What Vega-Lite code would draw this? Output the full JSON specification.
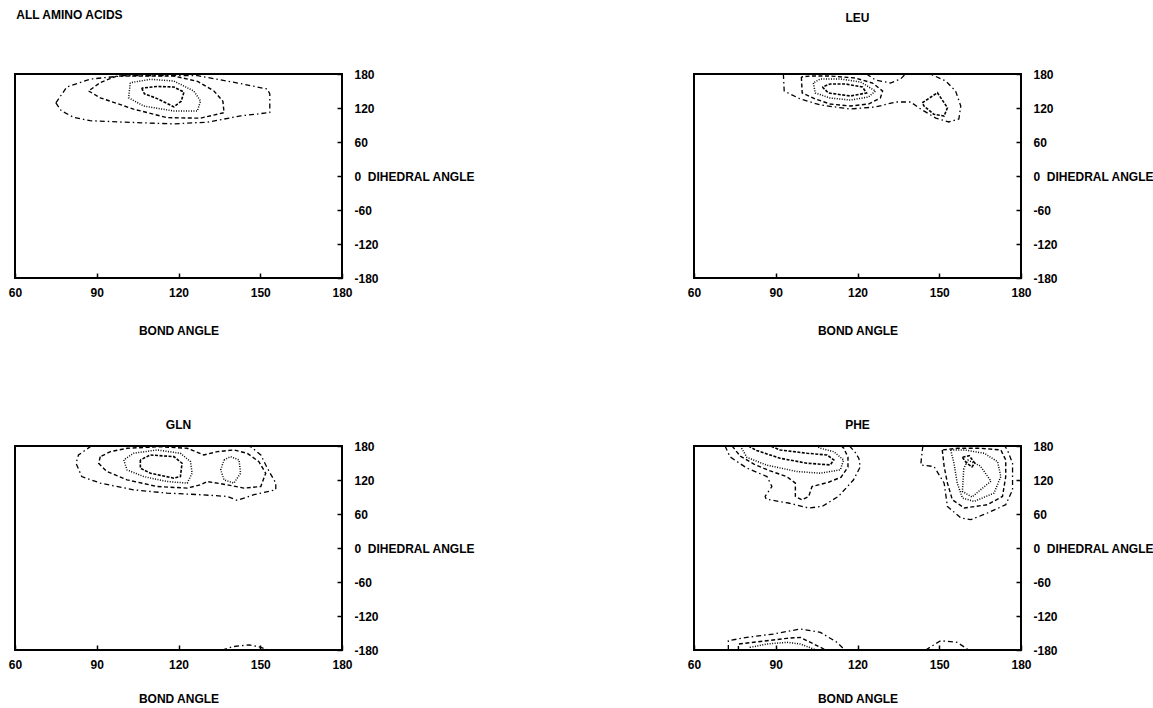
{
  "$schema": "https://vega.github.io/schema/vega-lite/v6.json",
  "background": "white",
  "padding": {"left": 7, "top": 8, "right": 5, "bottom": 0},
  "config": {
    "view": {"stroke": "black", "strokeWidth": 2},
    "font": "Liberation Sans",
    "title": {"font": "Liberation Sans", "fontSize": 12, "fontWeight": "bold", "color": "black"},
    "axis": {"labelFont": "Liberation Sans", "labelFontWeight": "bold", "labelFontSize": 12, "labelColor": "black", "titleFont": "Liberation Sans", "titleFontWeight": "bold", "titleFontSize": 12, "titleColor": "black", "tickColor": "black", "tickWidth": 1.5, "domain": false, "grid": false, "labelFlush": false, "labelOverlap": false},
    "axisX": {"tickSize": -5, "labelPadding": 14, "titlePadding": 21, "labelBaseline": "top"},
    "axisY": {"tickSize": -5, "labelPadding": 17, "labelAlign": "left", "labelBaseline": "middle"},
    "line": {"color": "black", "clip": true}
  },
  "columns": 2,
  "bounds": "flush",
  "spacing": {"row": 168, "column": 352},
  "datasets": {
    "rows": [
      {"p":"A","c":"A1","s":"a","i":0,"x":75,"y":129},{"p":"A","c":"A1","s":"a","i":1,"x":77,"y":115},{"p":"A","c":"A1","s":"a","i":2,"x":81.5,"y":103.5},{"p":"A","c":"A1","s":"a","i":3,"x":87.6,"y":97.6},{"p":"A","c":"A1","s":"a","i":4,"x":100,"y":95},{"p":"A","c":"A1","s":"a","i":5,"x":118,"y":92},{"p":"A","c":"A1","s":"a","i":6,"x":130.6,"y":95},{"p":"A","c":"A1","s":"a","i":7,"x":142.8,"y":106},{"p":"A","c":"A1","s":"a","i":8,"x":153.5,"y":112},{"p":"A","c":"A1","s":"a","i":9,"x":153.5,"y":145},{"p":"A","c":"A1","s":"a","i":10,"x":152.6,"y":153.5},{"p":"A","c":"A1","s":"a","i":11,"x":142.8,"y":163},{"p":"A","c":"A1","s":"a","i":12,"x":134,"y":171},{"p":"A","c":"A1","s":"a","i":13,"x":127,"y":177},{"p":"A","c":"A1","s":"a","i":14,"x":100,"y":177},{"p":"A","c":"A1","s":"a","i":15,"x":87.6,"y":171},{"p":"A","c":"A1","s":"a","i":16,"x":79,"y":157},{"p":"A","c":"A1","s":"a","i":17,"x":75,"y":129},
      {"p":"A","c":"A2","s":"b","i":0,"x":87,"y":150},{"p":"A","c":"A2","s":"b","i":1,"x":91.3,"y":138},{"p":"A","c":"A2","s":"b","i":2,"x":103.5,"y":118},{"p":"A","c":"A2","s":"b","i":3,"x":115.8,"y":103},{"p":"A","c":"A2","s":"b","i":4,"x":128,"y":102},{"p":"A","c":"A2","s":"b","i":5,"x":136.7,"y":111.7},{"p":"A","c":"A2","s":"b","i":6,"x":136.3,"y":132},{"p":"A","c":"A2","s":"b","i":7,"x":133,"y":150},{"p":"A","c":"A2","s":"b","i":8,"x":127,"y":167},{"p":"A","c":"A2","s":"b","i":9,"x":118.3,"y":176.5},{"p":"A","c":"A2","s":"b","i":10,"x":97.4,"y":176.5},{"p":"A","c":"A2","s":"b","i":11,"x":91.3,"y":165},{"p":"A","c":"A2","s":"b","i":12,"x":87,"y":150},
      {"p":"A","c":"A3","s":"c","i":0,"x":102.3,"y":164.6},{"p":"A","c":"A3","s":"c","i":1,"x":101.7,"y":138},{"p":"A","c":"A3","s":"c","i":2,"x":107.2,"y":123.5},{"p":"A","c":"A3","s":"c","i":3,"x":118.3,"y":114.7},{"p":"A","c":"A3","s":"c","i":4,"x":126.9,"y":114.7},{"p":"A","c":"A3","s":"c","i":5,"x":128.1,"y":132.4},{"p":"A","c":"A3","s":"c","i":6,"x":125.6,"y":150},{"p":"A","c":"A3","s":"c","i":7,"x":118.3,"y":167.6},{"p":"A","c":"A3","s":"c","i":8,"x":109.7,"y":170.6},{"p":"A","c":"A3","s":"c","i":9,"x":102.3,"y":164.6},
      {"p":"A","c":"A4","s":"d","i":0,"x":106.5,"y":155},{"p":"A","c":"A4","s":"d","i":1,"x":107.5,"y":145},{"p":"A","c":"A4","s":"d","i":2,"x":112,"y":137},{"p":"A","c":"A4","s":"d","i":3,"x":118.3,"y":122},{"p":"A","c":"A4","s":"d","i":4,"x":121,"y":132},{"p":"A","c":"A4","s":"d","i":5,"x":122,"y":148},{"p":"A","c":"A4","s":"d","i":6,"x":118.3,"y":157},{"p":"A","c":"A4","s":"d","i":7,"x":112,"y":158},{"p":"A","c":"A4","s":"d","i":8,"x":106.5,"y":155},

      {"p":"L","c":"L1","s":"a","i":0,"x":92.8,"y":180},{"p":"L","c":"L1","s":"a","i":1,"x":93.1,"y":150},{"p":"L","c":"L1","s":"a","i":2,"x":99,"y":135.9},{"p":"L","c":"L1","s":"a","i":3,"x":106.4,"y":125.3},{"p":"L","c":"L1","s":"a","i":4,"x":117.4,"y":118.2},{"p":"L","c":"L1","s":"a","i":5,"x":126.6,"y":121.8},{"p":"L","c":"L1","s":"a","i":6,"x":134,"y":130.6},{"p":"L","c":"L1","s":"a","i":7,"x":139.5,"y":130.6},{"p":"L","c":"L1","s":"a","i":8,"x":143.2,"y":118.2},{"p":"L","c":"L1","s":"a","i":9,"x":148.7,"y":102.3},{"p":"L","c":"L1","s":"a","i":10,"x":153.5,"y":95.3},{"p":"L","c":"L1","s":"a","i":11,"x":157.2,"y":100.6},{"p":"L","c":"L1","s":"a","i":12,"x":157.9,"y":123.5},{"p":"L","c":"L1","s":"a","i":13,"x":156,"y":150},{"p":"L","c":"L1","s":"a","i":14,"x":152.4,"y":167.6},{"p":"L","c":"L1","s":"a","i":15,"x":147.6,"y":178.2},{"p":"L","c":"L1","s":"a","i":16,"x":146,"y":180},
      {"p":"L","c":"L2","s":"b","i":0,"x":99.4,"y":174.7},{"p":"L","c":"L2","s":"b","i":1,"x":99.7,"y":146.5},{"p":"L","c":"L2","s":"b","i":2,"x":104.5,"y":135.9},{"p":"L","c":"L2","s":"b","i":3,"x":110,"y":127},{"p":"L","c":"L2","s":"b","i":4,"x":117.4,"y":123.5},{"p":"L","c":"L2","s":"b","i":5,"x":124,"y":127},{"p":"L","c":"L2","s":"b","i":6,"x":128.4,"y":137.6},{"p":"L","c":"L2","s":"b","i":7,"x":129.2,"y":150},{"p":"L","c":"L2","s":"b","i":8,"x":125.5,"y":164.1},{"p":"L","c":"L2","s":"b","i":9,"x":119.2,"y":172.9},{"p":"L","c":"L2","s":"b","i":10,"x":110,"y":176.5},{"p":"L","c":"L2","s":"b","i":11,"x":102.7,"y":176.5},{"p":"L","c":"L2","s":"b","i":12,"x":99.4,"y":174.7},
      {"p":"L","c":"L3","s":"a","i":0,"x":123.3,"y":180},{"p":"L","c":"L3","s":"a","i":1,"x":126.6,"y":169.4},{"p":"L","c":"L3","s":"a","i":2,"x":132.1,"y":164.1},{"p":"L","c":"L3","s":"a","i":3,"x":135.8,"y":171.2},{"p":"L","c":"L3","s":"a","i":4,"x":137.6,"y":180},
      {"p":"L","c":"L4","s":"c","i":0,"x":103.8,"y":164.1},{"p":"L","c":"L4","s":"c","i":1,"x":104.5,"y":146.5},{"p":"L","c":"L4","s":"c","i":2,"x":110,"y":137.6},{"p":"L","c":"L4","s":"c","i":3,"x":117.4,"y":134.1},{"p":"L","c":"L4","s":"c","i":4,"x":124,"y":139.4},{"p":"L","c":"L4","s":"c","i":5,"x":126.6,"y":150},{"p":"L","c":"L4","s":"c","i":6,"x":121.1,"y":165.9},{"p":"L","c":"L4","s":"c","i":7,"x":113.7,"y":171.2},{"p":"L","c":"L4","s":"c","i":8,"x":106.4,"y":171.2},{"p":"L","c":"L4","s":"c","i":9,"x":103.8,"y":164.1},
      {"p":"L","c":"L5","s":"d","i":0,"x":107.1,"y":157.1},{"p":"L","c":"L5","s":"d","i":1,"x":109.3,"y":146.5},{"p":"L","c":"L5","s":"d","i":2,"x":117.4,"y":141.2},{"p":"L","c":"L5","s":"d","i":3,"x":123.3,"y":146.5},{"p":"L","c":"L5","s":"d","i":4,"x":121.8,"y":157.1},{"p":"L","c":"L5","s":"d","i":5,"x":115.6,"y":162.4},{"p":"L","c":"L5","s":"d","i":6,"x":110,"y":162.4},{"p":"L","c":"L5","s":"d","i":7,"x":107.1,"y":157.1},
      {"p":"L","c":"L6","s":"d","i":0,"x":143.8,"y":129.3},{"p":"L","c":"L6","s":"d","i":1,"x":149.3,"y":147},{"p":"L","c":"L6","s":"d","i":2,"x":153,"y":120.5},{"p":"L","c":"L6","s":"d","i":3,"x":151.8,"y":105.9},{"p":"L","c":"L6","s":"d","i":4,"x":148,"y":108.9},{"p":"L","c":"L6","s":"d","i":5,"x":144.4,"y":123.5},{"p":"L","c":"L6","s":"d","i":6,"x":143.8,"y":129.3},

      {"p":"G","c":"G1","s":"a","i":0,"x":88,"y":180},{"p":"G","c":"G1","s":"a","i":1,"x":83.3,"y":164.2},{"p":"G","c":"G1","s":"a","i":2,"x":82.4,"y":149.6},{"p":"G","c":"G1","s":"a","i":3,"x":84.5,"y":126.1},{"p":"G","c":"G1","s":"a","i":4,"x":91.3,"y":114.5},{"p":"G","c":"G1","s":"a","i":5,"x":103.5,"y":102.7},{"p":"G","c":"G1","s":"a","i":6,"x":115.8,"y":96.9},{"p":"G","c":"G1","s":"a","i":7,"x":128.1,"y":94},{"p":"G","c":"G1","s":"a","i":8,"x":137.9,"y":91},{"p":"G","c":"G1","s":"a","i":9,"x":141.6,"y":84},{"p":"G","c":"G1","s":"a","i":10,"x":147.7,"y":94},{"p":"G","c":"G1","s":"a","i":11,"x":155.7,"y":102.7},{"p":"G","c":"G1","s":"a","i":12,"x":155.7,"y":114.5},{"p":"G","c":"G1","s":"a","i":13,"x":152.6,"y":140.8},{"p":"G","c":"G1","s":"a","i":14,"x":150.2,"y":164.2},{"p":"G","c":"G1","s":"a","i":15,"x":146.5,"y":178.8},{"p":"G","c":"G1","s":"a","i":16,"x":145,"y":180},
      {"p":"G","c":"G2","s":"b","i":0,"x":91.3,"y":161.2},{"p":"G","c":"G2","s":"b","i":1,"x":90.7,"y":149.6},{"p":"G","c":"G2","s":"b","i":2,"x":93.7,"y":134.9},{"p":"G","c":"G2","s":"b","i":3,"x":101.1,"y":120.3},{"p":"G","c":"G2","s":"b","i":4,"x":112.1,"y":108.5},{"p":"G","c":"G2","s":"b","i":5,"x":123.2,"y":105.7},{"p":"G","c":"G2","s":"b","i":6,"x":128.1,"y":111.5},{"p":"G","c":"G2","s":"b","i":7,"x":130.5,"y":117.3},{"p":"G","c":"G2","s":"b","i":8,"x":137.9,"y":111.5},{"p":"G","c":"G2","s":"b","i":9,"x":144,"y":105.7},{"p":"G","c":"G2","s":"b","i":10,"x":150.2,"y":108.5},{"p":"G","c":"G2","s":"b","i":11,"x":152,"y":132},{"p":"G","c":"G2","s":"b","i":12,"x":149.5,"y":152.4},{"p":"G","c":"G2","s":"b","i":13,"x":145.2,"y":167.2},{"p":"G","c":"G2","s":"b","i":14,"x":140.3,"y":173},{"p":"G","c":"G2","s":"b","i":15,"x":134.2,"y":170},{"p":"G","c":"G2","s":"b","i":16,"x":129.3,"y":164.2},{"p":"G","c":"G2","s":"b","i":17,"x":123.2,"y":176},{"p":"G","c":"G2","s":"b","i":18,"x":113.4,"y":178.8},{"p":"G","c":"G2","s":"b","i":19,"x":101.1,"y":176},{"p":"G","c":"G2","s":"b","i":20,"x":95,"y":170},{"p":"G","c":"G2","s":"b","i":21,"x":91.3,"y":161.2},
      {"p":"G","c":"G3","s":"c","i":0,"x":99.9,"y":155.4},{"p":"G","c":"G3","s":"c","i":1,"x":101.1,"y":137.9},{"p":"G","c":"G3","s":"c","i":2,"x":107.2,"y":126.1},{"p":"G","c":"G3","s":"c","i":3,"x":115.8,"y":117.3},{"p":"G","c":"G3","s":"c","i":4,"x":123.2,"y":114.5},{"p":"G","c":"G3","s":"c","i":5,"x":125,"y":132},{"p":"G","c":"G3","s":"c","i":6,"x":124.4,"y":152.4},{"p":"G","c":"G3","s":"c","i":7,"x":120.7,"y":167.2},{"p":"G","c":"G3","s":"c","i":8,"x":112.1,"y":173},{"p":"G","c":"G3","s":"c","i":9,"x":103.5,"y":167.2},{"p":"G","c":"G3","s":"c","i":10,"x":99.9,"y":155.4},
      {"p":"G","c":"G4","s":"c","i":0,"x":136.7,"y":155.4},{"p":"G","c":"G4","s":"c","i":1,"x":139.1,"y":161.2},{"p":"G","c":"G4","s":"c","i":2,"x":142.2,"y":155.4},{"p":"G","c":"G4","s":"c","i":3,"x":142.8,"y":132},{"p":"G","c":"G4","s":"c","i":4,"x":140.3,"y":114.5},{"p":"G","c":"G4","s":"c","i":5,"x":136.7,"y":120.3},{"p":"G","c":"G4","s":"c","i":6,"x":135.5,"y":137.9},{"p":"G","c":"G4","s":"c","i":7,"x":136.7,"y":155.4},
      {"p":"G","c":"G5","s":"d","i":0,"x":106,"y":155.4},{"p":"G","c":"G5","s":"d","i":1,"x":106,"y":140.8},{"p":"G","c":"G5","s":"d","i":2,"x":109.7,"y":132},{"p":"G","c":"G5","s":"d","i":3,"x":118.3,"y":123.2},{"p":"G","c":"G5","s":"d","i":4,"x":120.7,"y":126.1},{"p":"G","c":"G5","s":"d","i":5,"x":121.3,"y":149.6},{"p":"G","c":"G5","s":"d","i":6,"x":118.3,"y":161.2},{"p":"G","c":"G5","s":"d","i":7,"x":109.7,"y":164.2},{"p":"G","c":"G5","s":"d","i":8,"x":106,"y":155.4},
      {"p":"G","c":"G6","s":"a","i":0,"x":136,"y":-180},{"p":"G","c":"G6","s":"a","i":1,"x":140,"y":-174},{"p":"G","c":"G6","s":"a","i":2,"x":146,"y":-171},{"p":"G","c":"G6","s":"a","i":3,"x":150,"y":-175},{"p":"G","c":"G6","s":"a","i":4,"x":153,"y":-180},

      {"p":"P","c":"P1","s":"a","i":0,"x":71.4,"y":180},{"p":"P","c":"P1","s":"a","i":1,"x":73.2,"y":161},{"p":"P","c":"P1","s":"a","i":2,"x":79.4,"y":141},{"p":"P","c":"P1","s":"a","i":3,"x":86.8,"y":126},{"p":"P","c":"P1","s":"a","i":4,"x":88.6,"y":108.5},{"p":"P","c":"P1","s":"a","i":5,"x":86.1,"y":91},{"p":"P","c":"P1","s":"a","i":6,"x":86.5,"y":86},{"p":"P","c":"P1","s":"a","i":7,"x":94.7,"y":79.4},{"p":"P","c":"P1","s":"a","i":8,"x":102.1,"y":70.6},{"p":"P","c":"P1","s":"a","i":9,"x":107,"y":73.4},{"p":"P","c":"P1","s":"a","i":10,"x":113,"y":91},{"p":"P","c":"P1","s":"a","i":11,"x":118.5,"y":120},{"p":"P","c":"P1","s":"a","i":12,"x":121,"y":143},{"p":"P","c":"P1","s":"a","i":13,"x":120.5,"y":158},{"p":"P","c":"P1","s":"a","i":14,"x":119,"y":170},{"p":"P","c":"P1","s":"a","i":15,"x":117,"y":180},
      {"p":"P","c":"P2","s":"b","i":0,"x":74,"y":180},{"p":"P","c":"P2","s":"b","i":1,"x":77,"y":162},{"p":"P","c":"P2","s":"b","i":2,"x":82,"y":148},{"p":"P","c":"P2","s":"b","i":3,"x":88,"y":136},{"p":"P","c":"P2","s":"b","i":4,"x":94,"y":126},{"p":"P","c":"P2","s":"b","i":5,"x":97.2,"y":114.5},{"p":"P","c":"P2","s":"b","i":6,"x":97.2,"y":91},{"p":"P","c":"P2","s":"b","i":7,"x":99.6,"y":85.2},{"p":"P","c":"P2","s":"b","i":8,"x":102.1,"y":91},{"p":"P","c":"P2","s":"b","i":9,"x":103.3,"y":108.5},{"p":"P","c":"P2","s":"b","i":10,"x":109.4,"y":116},{"p":"P","c":"P2","s":"b","i":11,"x":114,"y":125},{"p":"P","c":"P2","s":"b","i":12,"x":116.5,"y":143},{"p":"P","c":"P2","s":"b","i":13,"x":116.5,"y":160},{"p":"P","c":"P2","s":"b","i":14,"x":115,"y":176},{"p":"P","c":"P2","s":"b","i":15,"x":114,"y":180},
      {"p":"P","c":"P3","s":"c","i":0,"x":77,"y":180},{"p":"P","c":"P3","s":"c","i":1,"x":79.4,"y":160},{"p":"P","c":"P3","s":"c","i":2,"x":86.8,"y":146},{"p":"P","c":"P3","s":"c","i":3,"x":97.8,"y":135},{"p":"P","c":"P3","s":"c","i":4,"x":106.4,"y":132},{"p":"P","c":"P3","s":"c","i":5,"x":113.7,"y":138},{"p":"P","c":"P3","s":"c","i":6,"x":114.9,"y":155.4},{"p":"P","c":"P3","s":"c","i":7,"x":111.3,"y":170},{"p":"P","c":"P3","s":"c","i":8,"x":106.4,"y":176},{"p":"P","c":"P3","s":"c","i":9,"x":105,"y":180},
      {"p":"P","c":"P4","s":"d","i":0,"x":80,"y":180},{"p":"P","c":"P4","s":"d","i":1,"x":83,"y":172},{"p":"P","c":"P4","s":"d","i":2,"x":91.6,"y":158.4},{"p":"P","c":"P4","s":"d","i":3,"x":101.5,"y":149.6},{"p":"P","c":"P4","s":"d","i":4,"x":110,"y":146.6},{"p":"P","c":"P4","s":"d","i":5,"x":111.3,"y":155.4},{"p":"P","c":"P4","s":"d","i":6,"x":108.8,"y":164.2},{"p":"P","c":"P4","s":"d","i":7,"x":101.5,"y":167.2},{"p":"P","c":"P4","s":"d","i":8,"x":91.6,"y":173},{"p":"P","c":"P4","s":"d","i":9,"x":88,"y":180},
      {"p":"P","c":"P5","s":"a","i":0,"x":144,"y":180},{"p":"P","c":"P5","s":"a","i":1,"x":143.8,"y":173},{"p":"P","c":"P5","s":"a","i":2,"x":143.2,"y":146.6},{"p":"P","c":"P5","s":"a","i":3,"x":148.1,"y":143.7},{"p":"P","c":"P5","s":"a","i":4,"x":151.8,"y":114.5},{"p":"P","c":"P5","s":"a","i":5,"x":153,"y":73.4},{"p":"P","c":"P5","s":"a","i":6,"x":157.9,"y":53},{"p":"P","c":"P5","s":"a","i":7,"x":161.6,"y":50},{"p":"P","c":"P5","s":"a","i":8,"x":167.7,"y":61.8},{"p":"P","c":"P5","s":"a","i":9,"x":174.4,"y":76.4},{"p":"P","c":"P5","s":"a","i":10,"x":176.9,"y":102.7},{"p":"P","c":"P5","s":"a","i":11,"x":176.9,"y":149.6},{"p":"P","c":"P5","s":"a","i":12,"x":175,"y":173},{"p":"P","c":"P5","s":"a","i":13,"x":174,"y":180},
      {"p":"P","c":"P6","s":"b","i":0,"x":151.1,"y":173},{"p":"P","c":"P6","s":"b","i":1,"x":151.8,"y":143.7},{"p":"P","c":"P6","s":"b","i":2,"x":153,"y":114.5},{"p":"P","c":"P6","s":"b","i":3,"x":154.8,"y":85.2},{"p":"P","c":"P6","s":"b","i":4,"x":159.2,"y":70.6},{"p":"P","c":"P6","s":"b","i":5,"x":167.7,"y":76.4},{"p":"P","c":"P6","s":"b","i":6,"x":173.2,"y":91},{"p":"P","c":"P6","s":"b","i":7,"x":174.4,"y":126.1},{"p":"P","c":"P6","s":"b","i":8,"x":174.4,"y":155.4},{"p":"P","c":"P6","s":"b","i":9,"x":172.6,"y":173},{"p":"P","c":"P6","s":"b","i":10,"x":165.2,"y":176},{"p":"P","c":"P6","s":"b","i":11,"x":156.6,"y":176},{"p":"P","c":"P6","s":"b","i":12,"x":151.1,"y":173},
      {"p":"P","c":"P7","s":"c","i":0,"x":154.2,"y":173},{"p":"P","c":"P7","s":"c","i":1,"x":155.4,"y":149.6},{"p":"P","c":"P7","s":"c","i":2,"x":156.6,"y":114.5},{"p":"P","c":"P7","s":"c","i":3,"x":158.5,"y":88.2},{"p":"P","c":"P7","s":"c","i":4,"x":162.8,"y":82.2},{"p":"P","c":"P7","s":"c","i":5,"x":170.1,"y":96.9},{"p":"P","c":"P7","s":"c","i":6,"x":172.6,"y":126.1},{"p":"P","c":"P7","s":"c","i":7,"x":171.4,"y":152.4},{"p":"P","c":"P7","s":"c","i":8,"x":166.5,"y":167.2},{"p":"P","c":"P7","s":"c","i":9,"x":159.2,"y":173},{"p":"P","c":"P7","s":"c","i":10,"x":154.2,"y":173},
      {"p":"P","c":"P8","s":"c","i":0,"x":159,"y":140},{"p":"P","c":"P8","s":"c","i":1,"x":158.5,"y":100},{"p":"P","c":"P8","s":"c","i":2,"x":162,"y":90},{"p":"P","c":"P8","s":"c","i":3,"x":169,"y":118},{"p":"P","c":"P8","s":"c","i":4,"x":165,"y":145},{"p":"P","c":"P8","s":"c","i":5,"x":160.5,"y":155},{"p":"P","c":"P8","s":"c","i":6,"x":159,"y":140},
      {"p":"P","c":"P9","s":"d","i":0,"x":158.5,"y":160},{"p":"P","c":"P9","s":"d","i":1,"x":160,"y":150},{"p":"P","c":"P9","s":"d","i":2,"x":162,"y":143},{"p":"P","c":"P9","s":"d","i":3,"x":163,"y":150},{"p":"P","c":"P9","s":"d","i":4,"x":161,"y":163},{"p":"P","c":"P9","s":"d","i":5,"x":158.5,"y":160},
      {"p":"P","c":"P10","s":"a","i":0,"x":72.6,"y":-180},{"p":"P","c":"P10","s":"a","i":1,"x":72.6,"y":-163.6},{"p":"P","c":"P10","s":"a","i":2,"x":79.4,"y":-157.7},{"p":"P","c":"P10","s":"a","i":3,"x":89.2,"y":-151.8},{"p":"P","c":"P10","s":"a","i":4,"x":99,"y":-143},{"p":"P","c":"P10","s":"a","i":5,"x":106.4,"y":-148.9},{"p":"P","c":"P10","s":"a","i":6,"x":112.5,"y":-166.5},{"p":"P","c":"P10","s":"a","i":7,"x":115,"y":-178.2},{"p":"P","c":"P10","s":"a","i":8,"x":116,"y":-180},
      {"p":"P","c":"P11","s":"b","i":0,"x":76.3,"y":-180},{"p":"P","c":"P11","s":"b","i":1,"x":76.3,"y":-169.4},{"p":"P","c":"P11","s":"b","i":2,"x":86.8,"y":-163.6},{"p":"P","c":"P11","s":"b","i":3,"x":94.1,"y":-159.4},{"p":"P","c":"P11","s":"b","i":4,"x":99,"y":-157.7},{"p":"P","c":"P11","s":"b","i":5,"x":103.9,"y":-169.4},{"p":"P","c":"P11","s":"b","i":6,"x":107.6,"y":-178.2},{"p":"P","c":"P11","s":"b","i":7,"x":108,"y":-180},
      {"p":"P","c":"P12","s":"c","i":0,"x":80.6,"y":-180},{"p":"P","c":"P12","s":"c","i":1,"x":80.6,"y":-175.3},{"p":"P","c":"P12","s":"c","i":2,"x":86.8,"y":-169.4},{"p":"P","c":"P12","s":"c","i":3,"x":94.1,"y":-166.5},{"p":"P","c":"P12","s":"c","i":4,"x":99,"y":-169.4},{"p":"P","c":"P12","s":"c","i":5,"x":103.9,"y":-178.2},{"p":"P","c":"P12","s":"c","i":6,"x":104.5,"y":-180},
      {"p":"P","c":"P13","s":"a","i":0,"x":145,"y":-180},{"p":"P","c":"P13","s":"a","i":1,"x":145.6,"y":-178.2},{"p":"P","c":"P13","s":"a","i":2,"x":150.5,"y":-163.6},{"p":"P","c":"P13","s":"a","i":3,"x":156.6,"y":-166.5},{"p":"P","c":"P13","s":"a","i":4,"x":160.3,"y":-178.2},{"p":"P","c":"P13","s":"a","i":5,"x":161,"y":-180}
    ]
  },
  "concat": [
    {
      "width": 327, "height": 204,
      "title": {"text": "ALL  AMINO ACIDS", "anchor": "start", "dx": 8, "offset": 46},
      "data": {"name": "rows"},
      "transform": [{"filter": "datum.p == 'A'"}],
      "mark": {"type": "line", "clip": true},
      "encoding": {
        "x": {"field": "x", "type": "quantitative", "scale": {"domain": [60, 180], "nice": false, "zero": false}, "axis": {"values": [60, 90, 120, 150, 180], "title": "BOND ANGLE", "titlePadding": 27}},
        "y": {"field": "y", "type": "quantitative", "scale": {"domain": [-180, 180], "nice": false, "zero": false}, "axis": {"orient": "right", "values": [-180, -120, -60, 0, 60, 120, 180], "title": null, "labelExpr": "datum.value == 0 ? '0\u00a0\u00a0DIHEDRAL ANGLE' : '' + datum.value"}},
        "detail": {"field": "c"},
        "order": {"field": "i", "type": "quantitative"},
        "strokeDash": {"field": "s", "type": "nominal", "scale": {"domain": ["a", "b", "c", "d"], "range": [[5, 3, 1.5, 3], [4, 2.5], [1, 1.5], [3, 1.5]]}, "legend": null},
        "strokeWidth": {"field": "s", "type": "ordinal", "scale": {"domain": ["a", "b", "c", "d"], "range": [1.3, 1.6, 0.9, 2]}, "legend": null}
      }
    },
    {
      "width": 327, "height": 204,
      "title": {"text": "LEU", "anchor": "middle", "offset": 43},
      "data": {"name": "rows"},
      "transform": [{"filter": "datum.p == 'L'"}],
      "mark": {"type": "line", "clip": true},
      "encoding": {
        "x": {"field": "x", "type": "quantitative", "scale": {"domain": [60, 180], "nice": false, "zero": false}, "axis": {"values": [60, 90, 120, 150, 180], "title": "BOND ANGLE", "titlePadding": 27}},
        "y": {"field": "y", "type": "quantitative", "scale": {"domain": [-180, 180], "nice": false, "zero": false}, "axis": {"orient": "right", "values": [-180, -120, -60, 0, 60, 120, 180], "title": null, "labelExpr": "datum.value == 0 ? '0\u00a0\u00a0DIHEDRAL ANGLE' : '' + datum.value"}},
        "detail": {"field": "c"},
        "order": {"field": "i", "type": "quantitative"},
        "strokeDash": {"field": "s", "type": "nominal", "scale": {"domain": ["a", "b", "c", "d"], "range": [[5, 3, 1.5, 3], [4, 2.5], [1, 1.5], [3, 1.5]]}, "legend": null},
        "strokeWidth": {"field": "s", "type": "ordinal", "scale": {"domain": ["a", "b", "c", "d"], "range": [1.3, 1.6, 0.9, 2]}, "legend": null}
      }
    },
    {
      "width": 327, "height": 204,
      "title": {"text": "GLN", "anchor": "middle", "offset": 8},
      "data": {"name": "rows"},
      "transform": [{"filter": "datum.p == 'G'"}],
      "mark": {"type": "line", "clip": true},
      "encoding": {
        "x": {"field": "x", "type": "quantitative", "scale": {"domain": [60, 180], "nice": false, "zero": false}, "axis": {"values": [60, 90, 120, 150, 180], "title": "BOND ANGLE", "titlePadding": 23}},
        "y": {"field": "y", "type": "quantitative", "scale": {"domain": [-180, 180], "nice": false, "zero": false}, "axis": {"orient": "right", "values": [-180, -120, -60, 0, 60, 120, 180], "title": null, "labelExpr": "datum.value == 0 ? '0\u00a0\u00a0DIHEDRAL ANGLE' : '' + datum.value"}},
        "detail": {"field": "c"},
        "order": {"field": "i", "type": "quantitative"},
        "strokeDash": {"field": "s", "type": "nominal", "scale": {"domain": ["a", "b", "c", "d"], "range": [[5, 3, 1.5, 3], [4, 2.5], [1, 1.5], [3, 1.5]]}, "legend": null},
        "strokeWidth": {"field": "s", "type": "ordinal", "scale": {"domain": ["a", "b", "c", "d"], "range": [1.3, 1.6, 0.9, 2]}, "legend": null}
      }
    },
    {
      "width": 327, "height": 204,
      "title": {"text": "PHE", "anchor": "middle", "offset": 8},
      "data": {"name": "rows"},
      "transform": [{"filter": "datum.p == 'P'"}],
      "mark": {"type": "line", "clip": true},
      "encoding": {
        "x": {"field": "x", "type": "quantitative", "scale": {"domain": [60, 180], "nice": false, "zero": false}, "axis": {"values": [60, 90, 120, 150, 180], "title": "BOND ANGLE", "titlePadding": 23}},
        "y": {"field": "y", "type": "quantitative", "scale": {"domain": [-180, 180], "nice": false, "zero": false}, "axis": {"orient": "right", "values": [-180, -120, -60, 0, 60, 120, 180], "title": null, "labelExpr": "datum.value == 0 ? '0\u00a0\u00a0DIHEDRAL ANGLE' : '' + datum.value"}},
        "detail": {"field": "c"},
        "order": {"field": "i", "type": "quantitative"},
        "strokeDash": {"field": "s", "type": "nominal", "scale": {"domain": ["a", "b", "c", "d"], "range": [[5, 3, 1.5, 3], [4, 2.5], [1, 1.5], [3, 1.5]]}, "legend": null},
        "strokeWidth": {"field": "s", "type": "ordinal", "scale": {"domain": ["a", "b", "c", "d"], "range": [1.3, 1.6, 0.9, 2]}, "legend": null}
      }
    }
  ]
}
